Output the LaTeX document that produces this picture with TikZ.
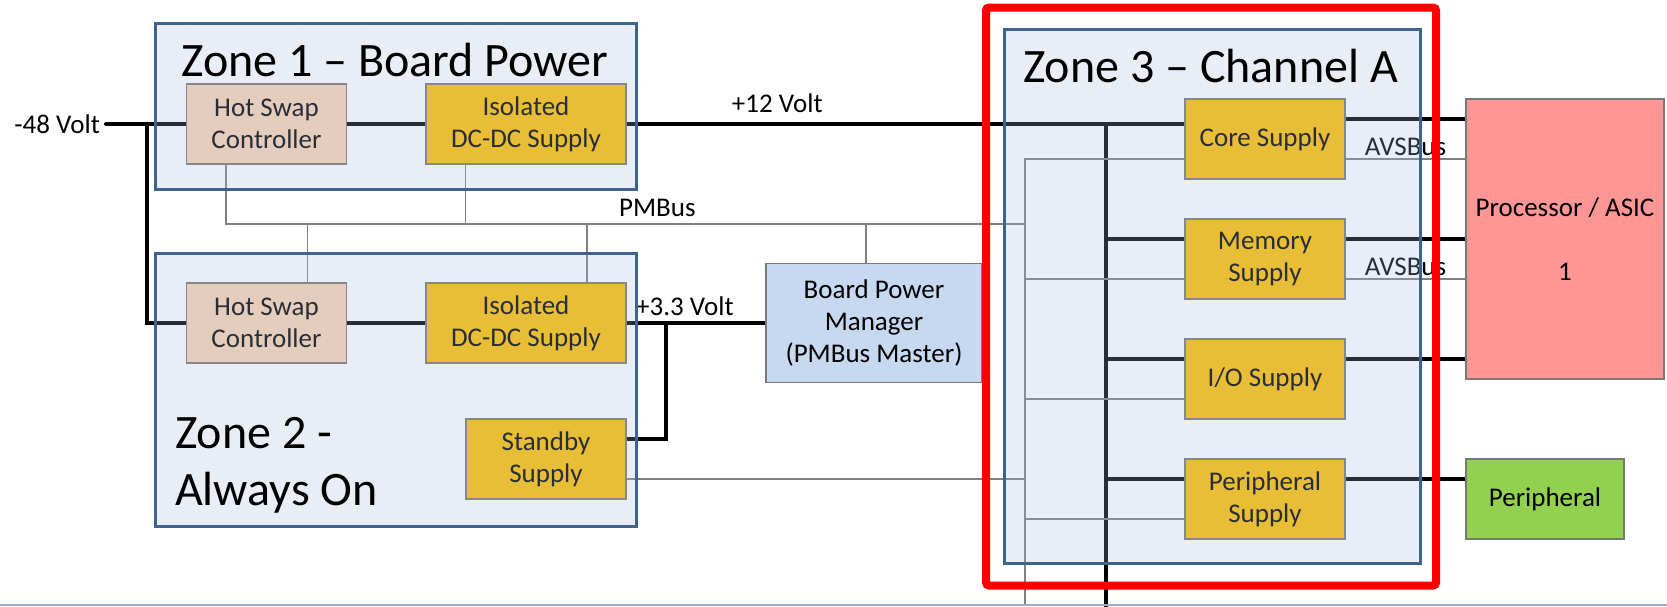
\documentclass[tikz,border=0pt]{standalone}
\usepackage{fontspec}
\setmainfont{Carlito}
\usetikzlibrary{positioning}
\definecolor{zoneline}{RGB}{63,98,143}
\definecolor{zonefill}{RGB}{167,187,219}
\definecolor{hsfill}{RGB}{251,212,180}
\definecolor{supfill}{RGB}{255,192,0}
\definecolor{bpmfill}{RGB}{198,217,241}
\definecolor{procfill}{RGB}{255,150,150}
\definecolor{perfill}{RGB}{146,208,80}
\definecolor{boxline}{RGB}{120,120,120}
\definecolor{busgray}{RGB}{128,128,128}
\definecolor{pagegray}{RGB}{160,170,190}
\pgfdeclarelayer{background}
\pgfdeclarelayer{foreground}
\pgfsetlayers{background,main,foreground}

\begin{document}
\begin{tikzpicture}[x=1pt, y=-1pt,
    block/.style={rectangle, draw=boxline, line width=1.5pt, minimum width=160pt, minimum height=80pt, text centered, align=center, font=\fontsize{27}{32}\selectfont},
    hotswap/.style={block, fill=hsfill},
    supply/.style={block, fill=supfill},
    zone/.style={rectangle, draw=zoneline, line width=3pt, fill=zonefill, fill opacity=0.25, draw opacity=1},
    title/.style={font=\fontsize{48}{57}\selectfont, inner sep=0pt},
    lbl/.style={font=\fontsize{27}{32}\selectfont, inner sep=3pt},
    pwr/.style={line width=4pt, line cap=round},
    bus/.style={draw=busgray, line width=1.5pt}]

\useasboundingbox (0,0) rectangle (1667,606);

% Zone 1 and Zone 2 blocks
\node[hotswap] (hs1) at (266.5,124) {Hot Swap\\Controller};
\node[supply, minimum width=200pt, right of=hs1, node distance=259.5pt] (dc1) {Isolated\\DC-DC Supply};
\node[hotswap, below of=hs1, node distance=199pt] (hs2) {Hot Swap\\Controller};
\node[supply, minimum width=200pt, below of=dc1, node distance=199pt] (dc2) {Isolated\\DC-DC Supply};
\node[supply] (sb) at (546,459) {Standby\\Supply};

% Zone 3 supplies
\node[supply] (core) at (1265,139) {Core Supply};
\node[supply, below of=core, node distance=120pt] (mem) {Memory\\Supply};
\node[supply, below of=mem, node distance=120pt] (io) {I/O Supply};
\node[supply, below of=io, node distance=120pt] (per) {Peripheral\\Supply};

% Manager and loads
\node[block, fill=bpmfill, minimum width=216pt, minimum height=119pt] (bpm) at (874,323) {Board Power\\Manager\\(PMBus Master)};
\node[block, fill=procfill, minimum width=198pt, minimum height=280pt] (proc) at (1565,239) {Processor / ASIC\\[32pt]1};
\node[block, fill=perfill, minimum width=158pt] (perif) at (1545,499) {Peripheral};

\node[lbl, anchor=east, inner sep=6pt] (vin) at (106,124) {-48 Volt};
\coordinate (j48) at (146.5,124);
\coordinate (j33) at (666,323);
\coordinate (pmjoin) at (1025,224);
\coordinate (pmbot) at (1025,606);
\coordinate (pbot) at (1105.5,606);
\coordinate (o1) at ([yshift=20pt]core.east);
\coordinate (o2) at ([yshift=20pt]mem.east);
\coordinate (o3) at ([yshift=20pt]io.east);
\coordinate (o4) at ([yshift=20pt]per.east);
\coordinate (a1) at ([yshift=-20pt]core.east);
\coordinate (a2) at ([yshift=-20pt]mem.east);

\begin{pgfonlayer}{background}
% Power rails
\draw[pwr] (vin.east) -- (hs1.west);
\draw[pwr] (j48) |- (hs2.west);
\draw[pwr] (hs1) -- (dc1);
\draw[pwr] (hs2) -- (dc2);
\draw[pwr] (dc1.east) -- (dc1.east -| core.west) node[lbl, pos=0.27, above, yshift=6pt] {+12 Volt};
\draw[pwr] (dc1.east -| pbot) -- (pbot);
\draw[pwr] ([yshift=20pt]mem.west) -| (pbot);
\draw[pwr] ([yshift=20pt]io.west) -| (pbot);
\draw[pwr] ([yshift=20pt]per.west) -| (pbot);
\draw[pwr] (dc2.east) -- (bpm.west) node[lbl, pos=0.42, above, yshift=2pt] {+3.3 Volt};
\draw[pwr] ([yshift=20pt]sb.east) -| (j33);
\draw[pwr] (o1) -- (o1 -| proc.west);
\draw[pwr] (o2) -- (o2 -| proc.west);
\draw[pwr] (o3) -- (o3 -| proc.west);
\draw[pwr] (o4) -- (o4 -| perif.west);

% PMBus and AVSBus
\draw[bus] ([xshift=40pt]hs1.south west) |- (pmjoin) node[lbl, pos=0.77, above, yshift=4pt] {PMBus};
\draw[bus] ([xshift=40pt]dc1.south west) |- (pmjoin);
\draw[bus] ([xshift=-40pt]hs2.north east) |- (pmjoin);
\draw[bus] ([xshift=-40pt]dc2.north east) |- (pmjoin);
\draw[bus] ([xshift=-8pt]bpm.north) |- (pmjoin);
\draw[bus] ([yshift=-20pt]core.west) -| (pmbot);
\draw[bus] ([yshift=-20pt]mem.west) -| (pmbot);
\draw[bus] ([yshift=-20pt]io.west) -| (pmbot);
\draw[bus] ([yshift=-20pt]per.west) -| (pmbot);
\draw[bus] ([yshift=-20pt]sb.east) -| (pmbot);
\draw[bus] (a1) -- (a1 -| proc.west) node[lbl, midway, above] {AVSBus};
\draw[bus] (a2) -- (a2 -| proc.west) node[lbl, midway, above] {AVSBus};

\draw[pagegray, line width=1.5pt] (0,605) -- (1667,605);
\end{pgfonlayer}

\begin{pgfonlayer}{foreground}
% Zones
\node[zone, minimum width=481pt, minimum height=166pt] (zone1) at (395.5,106) {};
\node[zone, minimum width=481pt, minimum height=273pt] (zone2) at (395.5,389.5) {};
\node[zone, minimum width=416pt, minimum height=534pt] (zone3) at (1212,296) {};
\node[title, anchor=base] (t1) at (395,76) {Zone 1 – Board Power};
\node[title, anchor=north west, align=left] (t2) at (175,417) {Zone 2 -\\Always On};
\node[title, anchor=base] (t3) at (1210.5,82) {Zone 3 – Channel A};
\node[draw=red, line width=8pt, rounded corners=3pt, minimum width=450pt, minimum height=578pt] (chA) at (1211,296.5) {};
\end{pgfonlayer}

\end{tikzpicture}
\end{document}
